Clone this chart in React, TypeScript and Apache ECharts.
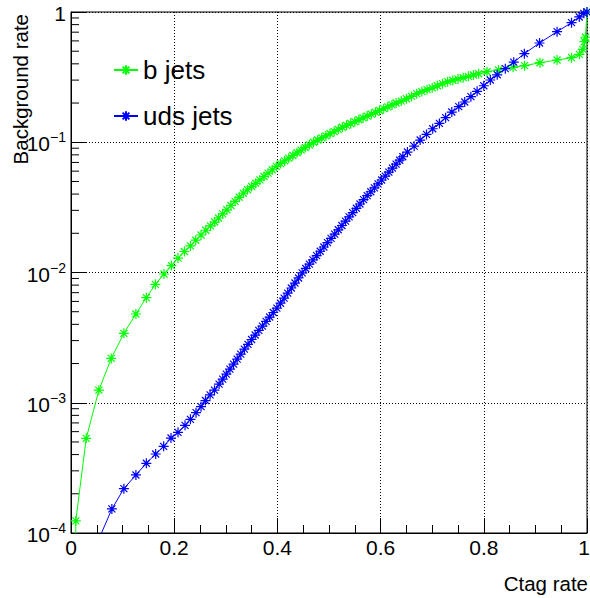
import React, { useEffect, useRef } from "react";
import * as echarts from "echarts";

// ---- data ----
const bJetsX = [
  0.0093, 0.0093, 0.0295, 0.054, 0.078, 0.1025, 0.1258, 0.146, 0.1635, 0.1802, 0.1946, 0.2074,
  0.2198, 0.2315, 0.2417, 0.252, 0.2612, 0.2703, 0.2786, 0.286, 0.294, 0.302, 0.31, 0.318, 0.326,
  0.334, 0.342, 0.35, 0.358, 0.366, 0.374, 0.382, 0.39, 0.398, 0.406, 0.414, 0.422, 0.43, 0.438,
  0.446, 0.454, 0.462, 0.47, 0.478, 0.486, 0.494, 0.502, 0.51, 0.518, 0.526, 0.534, 0.542, 0.55,
  0.558, 0.566, 0.574, 0.582, 0.59, 0.598, 0.606, 0.614, 0.622, 0.63, 0.64, 0.65, 0.66, 0.67,
  0.68, 0.69, 0.7, 0.71, 0.72, 0.73, 0.74, 0.75, 0.76, 0.77, 0.78, 0.79, 0.8062, 0.8285, 0.8567,
  0.879, 0.9087, 0.942, 0.97, 0.9854, 0.992, 0.995, 0.997, 1.0,
];
const bJetsY = [
  1e-6, 1.24e-4, 5.33e-4, 1.25e-3, 2.19e-3, 3.41e-3, 4.8e-3, 6.41e-3, 8.11e-3, 9.74e-3, 1.13e-2,
  1.29e-2, 1.45e-2, 1.6e-2, 1.77e-2, 1.94e-2, 2.11e-2, 2.28e-2, 2.44e-2, 0.0262, 0.0282, 0.0303,
  0.0327, 0.0352, 0.0378, 0.0406, 0.0432, 0.0457, 0.0484, 0.0514, 0.0546, 0.0579, 0.0615, 0.0652,
  0.0686, 0.0719, 0.0755, 0.0791, 0.083, 0.0869, 0.0912, 0.0955, 0.1, 0.104, 0.108, 0.112, 0.1164,
  0.1208, 0.1256, 0.1303, 0.1349, 0.1393, 0.1439, 0.1489, 0.1538, 0.1589, 0.1644, 0.1698, 0.1754,
  0.1811, 0.1871, 0.1936, 0.2, 0.207, 0.2158, 0.2249, 0.236, 0.2449, 0.2535, 0.2618, 0.2716,
  0.2818, 0.2917, 0.2992, 0.3062, 0.3133, 0.3206, 0.3281, 0.3357, 0.348, 0.359, 0.376, 0.387,
  0.408, 0.428, 0.446, 0.473, 0.517, 0.592, 0.64, 1.0,
];
const udsJetsX = [
  0.035, 0.0792, 0.1025, 0.1258, 0.146, 0.1641, 0.1796, 0.1938, 0.2074, 0.221, 0.2315, 0.2423,
  0.252, 0.2606, 0.2695, 0.278, 0.287, 0.294, 0.301, 0.308, 0.315, 0.322, 0.329, 0.336, 0.343,
  0.35, 0.357, 0.364, 0.371, 0.378, 0.385, 0.392, 0.399, 0.406, 0.413, 0.42, 0.427, 0.434, 0.441,
  0.448, 0.455, 0.462, 0.469, 0.476, 0.483, 0.49, 0.497, 0.504, 0.511, 0.518, 0.525, 0.532, 0.539,
  0.546, 0.553, 0.56, 0.567, 0.574, 0.581, 0.588, 0.595, 0.602, 0.609, 0.616, 0.623, 0.63, 0.637,
  0.6431, 0.652, 0.665, 0.6767, 0.689, 0.701, 0.714, 0.726, 0.738, 0.7515, 0.763, 0.775, 0.787,
  0.8, 0.8126, 0.826, 0.8417, 0.858, 0.8786, 0.908, 0.942, 0.97, 0.985, 0.9938, 1.0,
];
const udsJetsY = [
  6e-5, 1.53e-4, 2.19e-4, 2.79e-4, 3.43e-4, 4.04e-4, 4.63e-4, 5.36e-4, 5.93e-4, 6.71e-4, 7.46e-4,
  8.39e-4, 9.33e-4, 1.04e-3, 1.15e-3, 1.25e-3, 1.39e-3, 1.52e-3, 1.66e-3, 1.81e-3, 1.98e-3,
  2.16e-3, 2.36e-3, 2.58e-3, 2.81e-3, 3.06e-3, 3.31e-3, 3.59e-3, 3.88e-3, 4.21e-3, 4.55e-3,
  4.93e-3, 5.33e-3, 5.81e-3, 6.35e-3, 6.95e-3, 7.6e-3, 8.3e-3, 9.08e-3, 9.93e-3, 1.074e-2,
  1.159e-2, 1.25e-2, 1.349e-2, 1.456e-2, 1.57e-2, 1.694e-2, 1.828e-2, 1.972e-2, 2.128e-2,
  2.296e-2, 2.477e-2, 2.673e-2, 2.884e-2, 3.112e-2, 3.357e-2, 3.622e-2, 3.89e-2, 4.169e-2,
  4.467e-2, 4.786e-2, 5.129e-2, 5.495e-2, 5.902e-2, 6.324e-2, 6.792e-2, 7.278e-2, 0.0774, 0.0841,
  0.0933, 0.104, 0.1148, 0.127, 0.1396, 0.1545, 0.1706, 0.1875, 0.2037, 0.2239, 0.246, 0.2716,
  0.3006, 0.3296, 0.3673, 0.412, 0.4786, 0.578, 0.706, 0.828, 0.916, 0.977, 1.0,
];
const seriesNames = ["b jets", "uds jets"];
const seriesColors = ["#00ff00", "#0000ff"];
const xTickLabels: Record<string, string> = { "0": "0", "0.2": "0.2", "0.4": "0.4", "0.6": "0.6", "0.8": "0.8", "1": "1" };
const xMaxLabel = "1";
const yMinorTickValues = [
  2e-4, 3e-4, 4e-4, 5e-4, 6e-4, 7e-4, 8e-4, 9e-4,
  2e-3, 3e-3, 4e-3, 5e-3, 6e-3, 7e-3, 8e-3, 9e-3,
  2e-2, 3e-2, 4e-2, 5e-2, 6e-2, 7e-2, 8e-2, 9e-2,
  0.2, 0.3, 0.4, 0.5, 0.6, 0.7, 0.8, 0.9,
];
const xTitle = "Ctag rate";
const yTitle = "Background rate";

const FONT = "'Liberation Sans', Arial, Helvetica, sans-serif";
const STAR = "path://M0,5L10,5M5,0L5,10M1.5,1.5L8.5,8.5M8.5,1.5L1.5,8.5";

function zip(xs: number[], ys: number[]) {
  return xs.map((x, i) => [x, ys[i]]);
}

export default function App() {
  const ref = useRef<HTMLDivElement>(null);
  useEffect(() => {
    const chart = echarts.init(ref.current!, null, { renderer: "svg" });
    const lineSeries = [zip(bJetsX, bJetsY), zip(udsJetsX, udsJetsY)].map((data, i) => ({
      type: "line",
      name: seriesNames[i],
      data,
      symbol: STAR,
      symbolSize: 10,
      showSymbol: true,
      clip: true,
      lineStyle: { color: seriesColors[i], width: 1 },
      itemStyle: { color: seriesColors[i], borderColor: seriesColors[i], borderWidth: 1.2 },
      z: 3 + i,
    }));
    chart.setOption({
      animation: false,
      backgroundColor: "#ffffff",
      textStyle: { fontFamily: FONT },
      grid: {
        left: 71,
        right: 3,
        top: 12,
        bottom: 65,
        containLabel: false,
        outerBoundsMode: "none",
        show: true,
        borderColor: "#000",
        borderWidth: 1,
        backgroundColor: "transparent",
      },
      legend: {
        data: seriesNames,
        orient: "vertical",
        left: 108,
        top: 52,
        itemWidth: 24,
        itemHeight: 12,
        itemGap: 20,
        selectedMode: false,
        textStyle: { fontSize: 26, color: "#000", fontFamily: FONT },
      },
      xAxis: {
        type: "value",
        min: 0,
        max: 1,
        interval: 0.2,
        axisLine: { show: true, lineStyle: { color: "#000", width: 1 } },
        axisTick: { show: true, inside: true, length: 15, lineStyle: { color: "#000" } },
        minorTick: { show: true, splitNumber: 4, length: 8, lineStyle: { color: "#000" } },
        splitLine: { show: true, lineStyle: { color: "#000", width: 1, type: [1, 2] } },
        axisLabel: {
          fontSize: 21,
          color: "#000",
          margin: 4,
          fontFamily: FONT,
          showMaxLabel: false,
          showMinLabel: true,
          formatter: (v: number) => xTickLabels[String(Math.round(v * 10) / 10)] ?? String(v),
        },
      },
      yAxis: {
        type: "log",
        logBase: 10,
        min: 1e-4,
        max: 1,
        axisLine: { show: true, lineStyle: { color: "#000", width: 1 } },
        axisTick: { show: true, inside: true, length: 15, lineStyle: { color: "#000" } },
        splitLine: { show: true, lineStyle: { color: "#000", width: 1, type: [1, 2] } },
        axisLabel: {
          color: "#000",
          margin: 5,
          fontFamily: FONT,
          formatter: (v: number) => {
            const e = Math.round(Math.log10(v));
            if (e === 0) return "{b|1}";
            return "{b|10}{s|\u2212" + String(-e) + "}";
          },
          rich: {
            b: { fontSize: 21, lineHeight: 24, verticalAlign: "bottom", color: "#000", fontFamily: FONT },
            s: { fontSize: 14, lineHeight: 14, verticalAlign: "top", color: "#000", fontFamily: FONT },
          },
        },
      },
      graphic: [
        {
          type: "text",
          x: 590,
          y: 537,
          style: {
            text: xMaxLabel,
            fontSize: 21,
            fontFamily: FONT,
            fill: "#000",
            textAlign: "right",
            textVerticalAlign: "top",
          },
        },
        {
          type: "text",
          x: 588,
          y: 583,
          style: {
            text: xTitle,
            fontSize: 20.5,
            fontFamily: FONT,
            fill: "#000",
            textAlign: "right",
            textVerticalAlign: "middle",
          },
        },
        {
          type: "text",
          x: 20,
          y: 14,
          rotation: Math.PI / 2,
          style: {
            text: yTitle,
            fontSize: 20.5,
            fontFamily: FONT,
            fill: "#000",
            textAlign: "right",
            textVerticalAlign: "middle",
          },
        },
      ],
      series: [
        ...lineSeries,
        {
          type: "custom",
          name: "yMinorTicks",
          silent: true,
          clip: false,
          z: 2,
          data: yMinorTickValues.map((v) => [0, v]),
          renderItem: (_params: any, api: any) => {
            const p = api.coord([api.value(0), api.value(1)]);
            return {
              type: "line",
              shape: { x1: p[0], y1: p[1], x2: p[0] + 8, y2: p[1] },
              style: { stroke: "#000", lineWidth: 1 },
            };
          },
        },
      ],
    });
    return () => chart.dispose();
  }, []);
  return (
    <div
      ref={ref}
      style={{ position: "fixed", left: 0, top: 0, width: 590, height: 598, background: "#fff" }}
    />
  );
}
